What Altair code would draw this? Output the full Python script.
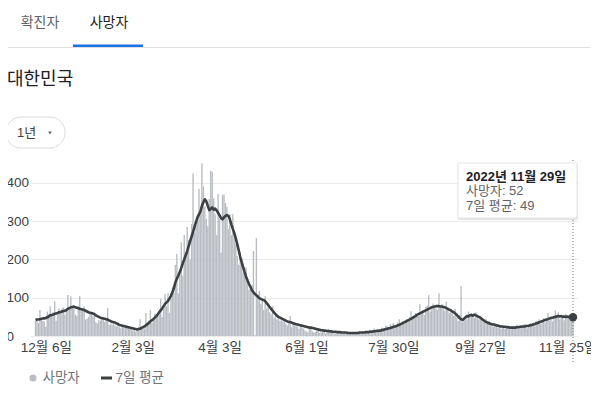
import altair as alt
import pandas as pd

# ---------------- data ----------------
start_date = "2021-11-29"

deaths_nov21 = [39, 44]
deaths_dec21 = [34, 68, 43, 40, 38, 24, 64, 57, 78, 53, 62, 91, 40, 56, 72, 63, 72, 75, 56, 68,
                107, 73, 103, 78, 79, 56, 52, 78, 105, 66, 69]
deaths_jan22 = [78, 43, 45, 50, 62, 60, 53, 56, 36, 33, 42, 40, 46, 48, 37, 43, 73, 29, 33, 29,
                32, 28, 25, 36, 23, 20, 25, 23, 24, 27, 21]
deaths_feb22 = [18, 20, 14, 16, 11, 17, 24, 44, 21, 25, 20, 60, 36, 41, 68, 34, 45, 58, 54, 56,
                66, 97, 50, 70, 110, 78, 112, 61]
deaths_mar22 = [96, 128, 112, 186, 215, 112, 161, 246, 158, 264, 206, 285, 251, 200, 293, 425,
                271, 289, 300, 384, 329, 451, 391, 339, 306, 287, 358, 432, 429, 360, 318]
deaths_apr22 = [264, 371, 305, 218, 368, 370, 348, 338, 280, 318, 264, 318, 269, 240, 209, 186,
                218, 203, 166, 170, 180, 149, 121, 133, 133, 222, 2, 256, 110, 118]
deaths_may22 = [84, 99, 68, 104, 72, 80, 62, 57, 78, 48, 55, 43, 52, 40, 41, 38, 44, 32, 27, 39,
                52, 23, 35, 28, 26, 24, 18, 30, 22, 19, 14]
deaths_jun22 = [12, 9, 24, 18, 12, 9, 11, 15, 20, 8, 10, 14, 13, 7, 11, 18, 9, 10, 13, 6,
                8, 12, 9, 7, 11, 6, 10, 8, 5, 7]
deaths_jul22 = [9, 5, 7, 6, 11, 9, 8, 6, 12, 10, 13, 7, 9, 17, 11, 13, 20, 12, 18, 14,
                16, 22, 19, 17, 28, 25, 18, 31, 27, 34, 25]
deaths_aug22 = [25, 35, 44, 28, 37, 40, 33, 45, 38, 50, 65, 43, 49, 60, 57, 52, 83, 62, 68, 55,
                76, 80, 107, 64, 70, 85, 79, 72, 68, 111, 78]
deaths_sep22 = [84, 72, 66, 90, 70, 60, 64, 58, 52, 71, 48, 39, 55, 130, 36, 45, 41, 46, 64, 52,
                60, 55, 47, 62, 51, 43, 53, 44, 38, 40]
deaths_oct22 = [45, 32, 40, 28, 31, 24, 33, 26, 22, 29, 19, 27, 25, 18, 23, 28, 21, 17, 24, 20,
                26, 30, 19, 23, 28, 22, 31, 25, 20, 27, 33]
deaths_nov22 = [29, 35, 25, 40, 33, 44, 31, 38, 47, 36, 45, 60, 40, 51, 38, 46, 66, 52, 62, 44,
                48, 55, 41, 58, 53, 47, 43, 40, 52]

avg_nov21 = [42, 43]
avg_dec21 = [43, 44, 45, 46, 46, 47, 49, 51, 54, 55, 56, 58, 59, 60, 62, 63, 64, 65, 66, 68,
             71, 73, 75, 76, 77, 75, 74, 73, 71, 70, 69]
avg_jan22 = [68, 66, 64, 62, 61, 60, 59, 57, 54, 52, 50, 48, 47, 46, 45, 44, 43, 41, 39, 37,
             36, 35, 33, 31, 29, 28, 27, 26, 25, 24, 23]
avg_feb22 = [22, 21, 20, 19, 18, 17, 18, 19, 21, 23, 25, 28, 31, 34, 38, 41, 44, 48, 52, 57,
             62, 67, 72, 78, 84, 88, 92, 98]
avg_mar22 = [105, 114, 126, 140, 150, 158, 167, 178, 190, 200, 211, 222, 235, 248, 260, 272,
             285, 298, 310, 318, 325, 340, 350, 357, 352, 340, 329, 332, 336, 330, 333]
avg_apr22 = [328, 322, 315, 308, 305, 310, 314, 316, 314, 305, 292, 280, 269, 255, 240, 224,
             207, 193, 180, 167, 155, 145, 136, 128, 120, 114, 110, 106, 103, 99]
avg_may22 = [97, 95, 94, 91, 86, 81, 76, 71, 66, 61, 57, 53, 50, 48, 46, 44, 42, 40, 38, 37,
             36, 35, 33, 32, 31, 30, 29, 28, 27, 26, 25]
avg_jun22 = [24, 23, 22, 22, 21, 20, 19, 18, 17, 16, 15, 15, 14, 14, 13, 13, 12, 12, 11, 11,
             11, 10, 10, 10, 9, 9, 9, 9, 8, 8]
avg_jul22 = [8, 8, 8, 8, 8, 8, 9, 9, 9, 9, 10, 10, 10, 11, 11, 12, 12, 13, 13, 14,
             14, 15, 16, 17, 18, 19, 20, 21, 22, 24, 25]
avg_aug22 = [26, 28, 29, 31, 33, 35, 37, 39, 41, 43, 45, 47, 50, 52, 55, 57, 59, 61, 63, 65,
             67, 69, 71, 73, 75, 76, 77, 78, 78, 78, 77]
avg_sep22 = [77, 76, 75, 73, 71, 69, 67, 64, 62, 59, 55, 51, 47, 44, 42, 45, 49, 52, 51, 54,
             55, 53, 56, 54, 52, 50, 48, 45, 42, 39]
avg_oct22 = [37, 35, 33, 32, 31, 30, 29, 28, 27, 26, 25, 25, 24, 24, 23, 23, 22, 22, 22, 22,
             22, 23, 23, 24, 24, 25, 25, 26, 26, 27, 28]
avg_nov22 = [29, 30, 31, 33, 34, 36, 37, 39, 40, 42, 43, 44, 46, 47, 48, 49, 50, 51, 52, 51,
             52, 50, 51, 50, 51, 50, 49, 50, 49]

x_tick_dates = ["2021-12-06", "2022-02-03", "2022-04-03", "2022-06-01",
                "2022-07-30", "2022-09-27", "2022-11-25"]
y_ticks = [0, 100, 200, 300, 400]

tab_labels = ["확진자", "사망자"]
region_title = "대한민국"
range_label = "1년"
legend_labels = ["사망자", "7일 평균"]

# ---------------- assemble ----------------
deaths = (deaths_nov21 + deaths_dec21 + deaths_jan22 + deaths_feb22 + deaths_mar22 + deaths_apr22 +
          deaths_may22 + deaths_jun22 + deaths_jul22 + deaths_aug22 + deaths_sep22 + deaths_oct22 +
          deaths_nov22)
avg7 = (avg_nov21 + avg_dec21 + avg_jan22 + avg_feb22 + avg_mar22 + avg_apr22 + avg_may22 +
        avg_jun22 + avg_jul22 + avg_aug22 + avg_sep22 + avg_oct22 + avg_nov22)
dates = pd.date_range(start_date, periods=len(deaths), freq="D")
df = pd.DataFrame({"date": dates.strftime("%Y-%m-%d"), "deaths": deaths, "avg": avg7})
last = df.iloc[[-1]]
last_dt = dates[-1]

FONT = "Liberation Sans, Noto Sans CJK KR, sans-serif"
BAR = "#b9bdc3"
LINE = "#3c4043"

W, H = 547.5, 176
xscale = alt.Scale(type="utc", domain=[df["date"].iloc[0], df["date"].iloc[-1]], nice=False)
yscale = alt.Scale(domain=[0, 460], nice=False)

xenc = alt.X("date:T", scale=xscale, title=None,
             axis=alt.Axis(values=x_tick_dates,
                           labelExpr="utcFormat(datum.value, '%-m월 %-d일')",
                           domain=False, ticks=False, tickSize=0, grid=False, labelPadding=4,
                           labelFlush=False, labelOverlap=False, labelFontSize=13.5,
                           labelColor="#3c4043", labelBaseline="top", labelFont=FONT))
yenc = alt.Y("deaths:Q", scale=yscale, title=None,
             axis=alt.Axis(values=y_ticks, domain=False, ticks=False, tickSize=0, grid=True,
                           gridColor="#ebebeb", labelAlign="left", labelPadding=24.5,
                           labelFontSize=13.5, labelColor="#3c4043", labelFont=FONT))

base = alt.Chart(df)
bars = base.mark_bar(width=1.4, color=BAR).encode(x=xenc, y=yenc)
line = base.mark_line(color=LINE, strokeWidth=2.6, strokeJoin="round").encode(
    x=alt.X("date:T", scale=xscale), y=alt.Y("avg:Q", scale=yscale))
vrule = alt.Chart(last).mark_rule(color="#777777", strokeDash=[1, 2], strokeWidth=1).encode(
    x=alt.X("date:T", scale=xscale), y=alt.value(0), y2=alt.value(203))
dot = alt.Chart(last).mark_circle(size=70, color=LINE, opacity=1).encode(
    x=alt.X("date:T", scale=xscale), y=alt.Y("avg:Q", scale=yscale))

one = pd.DataFrame({"k": [0]})

def txt(text, x, y, size=13, color="#3c4043", align="left", weight="normal"):
    return alt.Chart(pd.DataFrame({"t": [text]})).mark_text(
        align=align, baseline="middle", fontSize=size, font=FONT, color=color,
        fontWeight=weight).encode(text="t:N", x=alt.value(x), y=alt.value(y))

def rect(x, x2, y, y2, **kw):
    return alt.Chart(one).mark_rect(**kw).encode(
        x=alt.value(x), x2=alt.value(x2), y=alt.value(y), y2=alt.value(y2))

# header: tabs, title, range pill
sep = alt.Chart(one).mark_rule(color="#e0e0e0", strokeWidth=1).encode(
    x=alt.value(-25.5), x2=alt.value(560), y=alt.value(-112.5))
underline = rect(42.5, 112.5, -115.5, -113, color="#1a73e8")
tab1 = txt(tab_labels[0], 9.5, -137, size=14, color="#5f6368", align="center")
tab2 = txt(tab_labels[1], 78.5, -137, size=14, color="#202124", align="center")
title = txt(region_title, -23.5, -80, size=18, color="#202124")
pill = rect(-24.5, 34.5, -43, -12, fill="white", stroke="#dadce0", strokeWidth=1, cornerRadius=15)
pill_txt = txt(range_label, -13.5, -27, size=13, color="#3c4043")
tri = alt.Chart(one).mark_point(shape="triangle-down", filled=True, size=14, color="#5f6368",
                                opacity=1).encode(x=alt.value(19.5), y=alt.value(-27))

# legend
lg_dot = alt.Chart(one).mark_circle(size=50, color=BAR, opacity=1).encode(
    x=alt.value(2.5), y=alt.value(218))
lg_t1 = txt(legend_labels[0], 12, 218, size=13.5, color="#70757a")
lg_line = alt.Chart(one).mark_rule(color=LINE, strokeWidth=3).encode(
    x=alt.value(70.5), x2=alt.value(81.5), y=alt.value(218))
lg_t2 = txt(legend_labels[1], 85, 218, size=13.5, color="#70757a")

# tooltip
tip_shadow = rect(427, 547.5, 4, 60, fill="#000000", opacity=0.10, cornerRadius=2)
tip_box = rect(427.5, 546.5, 3, 58, fill="white", stroke="#e6e6e6", strokeWidth=1)
tip_head = f"{last_dt.year}년 {last_dt.month}월 {last_dt.day}일"
tip1 = txt(tip_head, 435.5, 17, size=13, color="#202124", weight="bold")
tip2 = txt(f"{legend_labels[0]}: {deaths[-1]}", 435.5, 31, size=13, color="#5f6368")
tip3 = txt(f"{legend_labels[1]}: {avg7[-1]}", 435.5, 46, size=13, color="#5f6368")

chart = alt.layer(
    bars, line, vrule, dot,
    sep, underline, tab1, tab2, title, pill, pill_txt, tri,
    lg_dot, lg_t1, lg_line, lg_t2,
    tip_shadow, tip_box, tip1, tip2, tip3,
).properties(
    width=W, height=H,
    autosize=alt.AutoSizeParams(type="none"),
    padding={"left": 22.5, "top": 152, "right": 13, "bottom": 53},
).configure(
    font=FONT, background="white", view=alt.ViewConfig(stroke=None, strokeWidth=0)
)

chart.save("out.html", embed_options={"renderer": "svg", "actions": False})
